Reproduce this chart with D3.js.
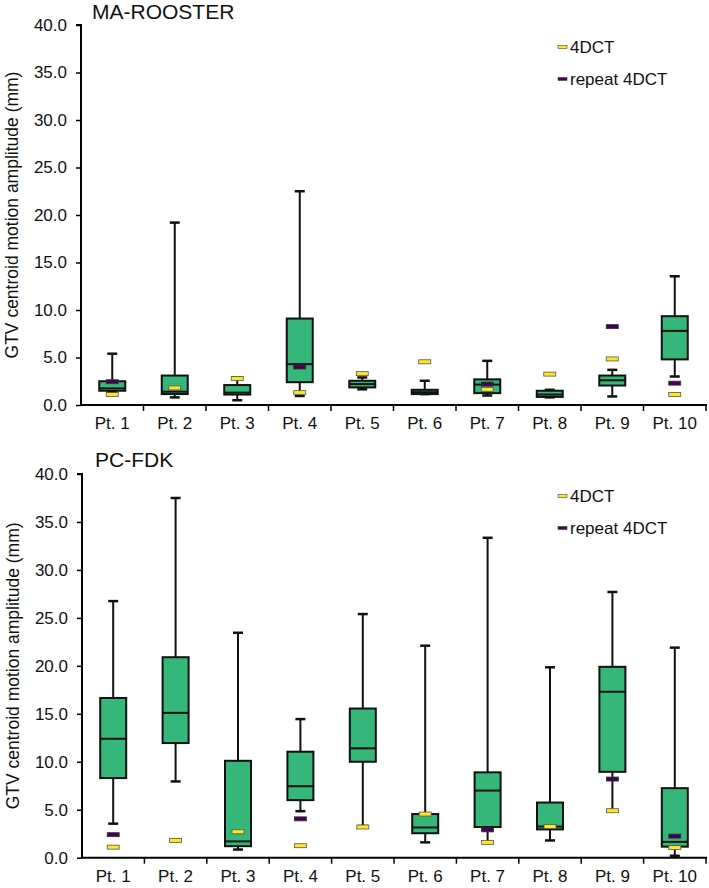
<!DOCTYPE html>
<html>
<head>
<meta charset="utf-8">
<script src="https://cdn.jsdelivr.net/npm/d3@7"></script>
<style>
  html, body { margin: 0; padding: 0; background: #fff; }
  svg { display: block; font-family: "Liberation Sans", Arial, sans-serif; }
</style>
</head>
<body>
<svg id="chart" width="709" height="888"></svg>
<script>
const categories = ["Pt. 1","Pt. 2","Pt. 3","Pt. 4","Pt. 5","Pt. 6","Pt. 7","Pt. 8","Pt. 9","Pt. 10"];
const yTicks = [0,5,10,15,20,25,30,35,40];
const yLabel = "GTV centroid motion amplitude (mm)";
const legendLabels = ["4DCT", "repeat 4DCT"];

// MA-ROOSTER
const maTitle = "MA-ROOSTER";
const maWhiskerLow  = [1.4, 0.8, 0.5, 0.95, 1.65, 1.15, 1.0, 0.8, 0.9, 3.0];
const maQ1          = [1.5, 1.15, 1.1, 2.4, 1.85, 1.15, 1.25, 0.85, 2.05, 4.8];
const maMedian      = [1.75, 1.4, 1.3, 4.3, 2.2, 1.35, 2.15, 1.1, 2.6, 7.8];
const maQ3          = [2.5, 3.1, 2.1, 9.1, 2.55, 1.6, 2.7, 1.5, 3.1, 9.35];
const maWhiskerHigh = [5.4, 19.2, 2.9, 22.5, 2.9, 2.55, 4.65, 1.6, 3.7, 13.55];
const ma4DCT        = [1.1, 1.8, 2.8, 1.3, 3.3, 4.55, 1.65, 3.25, 4.85, 1.1];
const maRepeat      = [2.45, null, null, 4.0, null, null, 2.2, null, 8.25, 2.3];

// PC-FDK
const pcTitle = "PC-FDK";
const pcWhiskerLow  = [3.55, 7.95, 0.85, 4.85, 3.3, 1.6, 1.6, 1.8, 4.9, 0.2];
const pcQ1          = [8.3, 11.95, 1.2, 6.0, 10.0, 2.55, 3.2, 2.95, 8.95, 1.15];
const pcMedian      = [12.4, 15.1, 1.7, 7.45, 11.4, 3.15, 7.0, 3.25, 17.3, 1.65];
const pcQ3          = [16.65, 20.9, 10.1, 11.05, 15.55, 4.55, 8.9, 5.75, 19.9, 7.25];
const pcWhiskerHigh = [26.75, 37.5, 23.45, 14.45, 25.4, 22.1, 33.35, 19.85, 27.7, 21.9];
const pc4DCT        = [1.1, 1.8, 2.7, 1.25, 3.2, 4.55, 1.6, 3.25, 4.9, 1.05];
const pcRepeat      = [2.4, null, null, 4.05, null, null, 2.9, null, 8.2, 2.25];

const BOX_FILL = "#35b779";
const C_4DCT = "#fde725";
const C_REP = "#440154";

const svg = d3.select("#chart");

function drawPanel(cfg) {
  const g = svg.append("g");
  const x = d3.scaleBand().domain(categories).range([cfg.x0, cfg.x1]).paddingInner(0).paddingOuter(0);
  const y = d3.scaleLinear().domain([0, 40]).range([cfg.yBottom, cfg.yTop]);

  // y axis
  const yAxis = d3.axisLeft(y).tickValues(yTicks).tickFormat(d3.format(".1f")).tickSize(5).tickPadding(9);
  const ya = g.append("g").attr("transform", `translate(${cfg.x0},0)`).call(yAxis);
  ya.select(".domain").attr("stroke", "#000").attr("stroke-width", 2).attr("d", `M-5,${y(40)}H0V${y(0)}`);
  ya.selectAll(".tick line").attr("stroke", "#000").attr("stroke-width", 1.5);
  ya.selectAll(".tick text").attr("font-size", 17).attr("fill", "#111").attr("font-family", "Liberation Sans, Arial, sans-serif");

  // x axis
  const xa = g.append("g").attr("transform", `translate(0,${cfg.yBottom})`);
  xa.append("line").attr("x1", cfg.x0 - 1).attr("x2", cfg.x1 + 1).attr("y1", 0).attr("y2", 0)
    .attr("stroke", "#000").attr("stroke-width", 2);
  const bounds = categories.map(c => x(c)).concat([cfg.x1]);
  xa.selectAll("line.tk").data(bounds.slice(1)).enter().append("line").attr("class", "tk")
    .attr("x1", d => d).attr("x2", d => d).attr("y1", 0).attr("y2", 6)
    .attr("stroke", "#000").attr("stroke-width", 1.5);
  xa.selectAll("text").data(categories).enter().append("text")
    .attr("x", d => x(d) + x.bandwidth() / 2).attr("y", 24)
    .attr("text-anchor", "middle").attr("font-size", 17).attr("fill", "#111")
    .text(d => d);

  // y label
  g.append("text")
    .attr("transform", `translate(${cfg.labelX},${(cfg.yTop + cfg.yBottom) / 2}) rotate(-90)`)
    .attr("text-anchor", "middle").attr("font-size", 17.5).attr("fill", "#111")
    .text(yLabel);

  // title
  g.append("text").attr("x", cfg.titleX).attr("y", cfg.titleY)
    .attr("font-size", 21).attr("fill", "#111").text(cfg.title);

  const bw = 26, cw = 10, mw = 12, mh = 4;
  const rows = categories.map((c, i) => ({
    c, lo: cfg.lo[i], q1: cfg.q1[i], med: cfg.med[i], q3: cfg.q3[i], hi: cfg.hi[i],
    a: cfg.a[i], r: cfg.r[i]
  }));
  const cx = d => x(d.c) + x.bandwidth() / 2;

  const bg = g.append("g");
  rows.forEach(d => {
    const X = cx(d);
    bg.append("line").attr("x1", X).attr("x2", X).attr("y1", y(d.hi)).attr("y2", y(d.lo))
      .attr("stroke", "#111").attr("stroke-width", 2);
    [d.hi, d.lo].forEach(v => {
      bg.append("line").attr("x1", X - cw / 2).attr("x2", X + cw / 2).attr("y1", y(v)).attr("y2", y(v))
        .attr("stroke", "#111").attr("stroke-width", 2.5);
    });
    bg.append("rect").attr("x", X - bw / 2).attr("width", bw)
      .attr("y", y(d.q3)).attr("height", Math.max(0, y(d.q1) - y(d.q3)))
      .attr("fill", BOX_FILL).attr("stroke", "#111").attr("stroke-width", 2);
    bg.append("line").attr("x1", X - bw / 2).attr("x2", X + bw / 2).attr("y1", y(d.med)).attr("y2", y(d.med))
      .attr("stroke", "#111").attr("stroke-width", 2);
  });

  const mg = g.append("g");
  rows.forEach(d => {
    const X = cx(d);
    if (d.r != null) {
      mg.append("rect").attr("x", X - mw / 2).attr("y", y(d.r) - mh / 2).attr("width", mw).attr("height", mh)
        .attr("fill", C_REP).attr("stroke", "#333").attr("stroke-width", 0.8);
    }
    if (d.a != null) {
      mg.append("rect").attr("x", X - mw / 2).attr("y", y(d.a) - mh / 2).attr("width", mw).attr("height", mh)
        .attr("fill", C_4DCT).attr("stroke", "#555").attr("stroke-width", 0.8);
    }
  });

  // legend
  const lg = g.append("g");
  const lcolors = [C_4DCT, C_REP];
  legendLabels.forEach((t, i) => {
    const ly = cfg.legendY + i * cfg.legendGap;
    lg.append("rect").attr("x", 558).attr("y", ly - 1.5).attr("width", 9).attr("height", 3)
      .attr("fill", lcolors[i]).attr("stroke", "#444").attr("stroke-width", 0.6);
    lg.append("text").attr("x", 570).attr("y", ly + 6).attr("font-size", 17).attr("fill", "#111").text(t);
  });
}

drawPanel({
  title: maTitle, titleX: 92, titleY: 19,
  x0: 81, x1: 706, yTop: 25, yBottom: 405, labelX: 18,
  legendY: 47, legendGap: 32,
  lo: maWhiskerLow, q1: maQ1, med: maMedian, q3: maQ3, hi: maWhiskerHigh, a: ma4DCT, r: maRepeat
});

drawPanel({
  title: pcTitle, titleX: 95, titleY: 467,
  x0: 82, x1: 706, yTop: 474, yBottom: 857.7, labelX: 19,
  legendY: 496, legendGap: 32,
  lo: pcWhiskerLow, q1: pcQ1, med: pcMedian, q3: pcQ3, hi: pcWhiskerHigh, a: pc4DCT, r: pcRepeat
});
</script>
</body>
</html>
